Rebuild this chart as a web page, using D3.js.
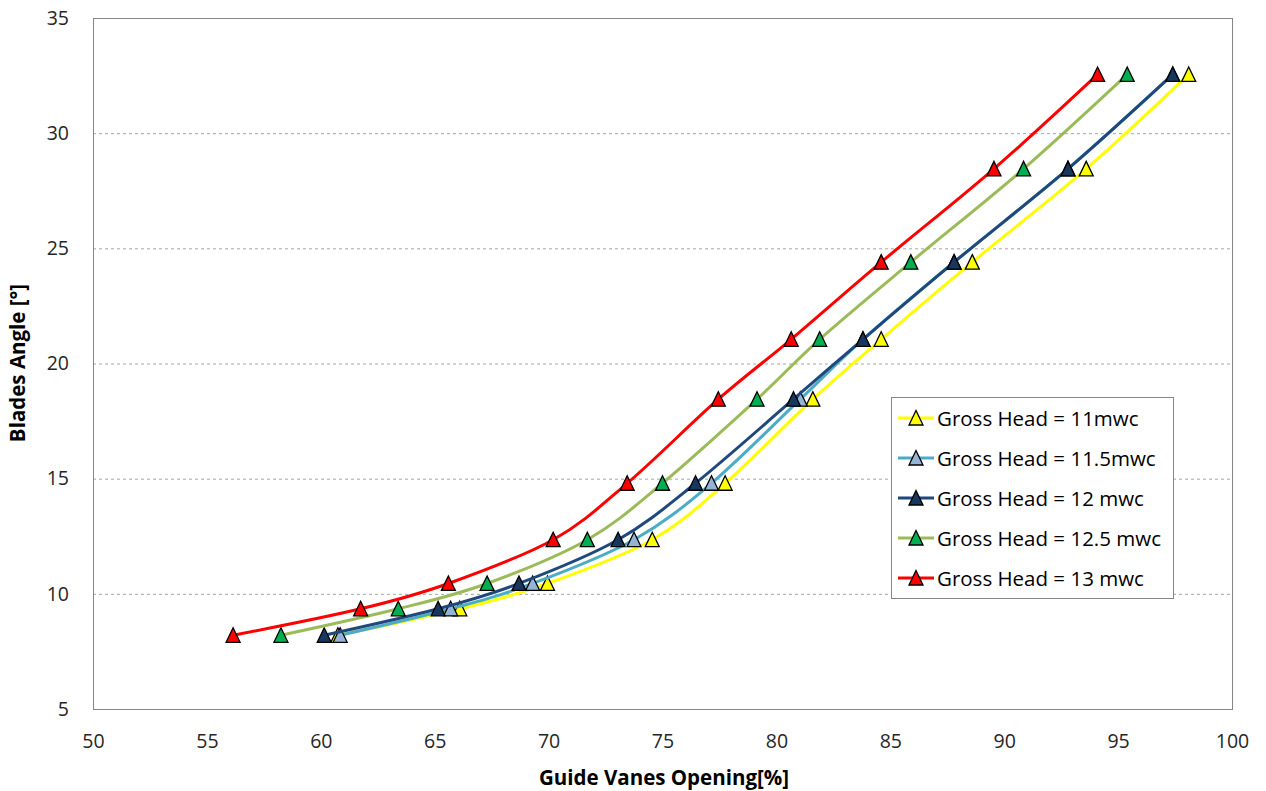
<!DOCTYPE html>
<html>
<head>
<meta charset="utf-8">
<script src="https://cdn.jsdelivr.net/npm/d3@7"></script>
<style>
  body { margin: 0; background: #fff; }
  text { font-family: "Open Sans", "DejaVu Sans", sans-serif; }
</style>
</head>
<body>
<div class="chart"></div>
<script>
// blade angle levels shared by every series
const angles = [8.2, 9.35, 10.45, 12.35, 14.8, 18.45, 21.05, 24.4, 28.45, 32.55];

// guide vane opening [%] per gross head
const head11 = [60.75, 66.1, 69.95, 74.55, 77.75, 81.6, 84.6, 88.6, 93.6, 98.1];
const head115 = [60.85, 65.7, 69.3, 73.75, 77.15, 81.05, 83.8, 87.8, 92.8, 97.4];
const head12 = [60.15, 65.15, 68.7, 73.05, 76.45, 80.75, 83.8, 87.8, 92.8, 97.4];
const head125 = [58.25, 63.4, 67.3, 71.7, 75.0, 79.15, 81.9, 85.9, 90.85, 95.4];
const head13 = [56.15, 61.75, 65.6, 70.2, 73.45, 77.45, 80.65, 84.6, 89.55, 94.1];

const seriesNames = ["Gross Head = 11mwc", "Gross Head = 11.5mwc", "Gross Head = 12 mwc", "Gross Head = 12.5 mwc", "Gross Head = 13 mwc"];
const lineColors = ["#FFFF00", "#4BACC6", "#1F497D", "#9BBB59", "#FF0000"];
const markerColors = ["#FFFF00", "#95B3D7", "#17375E", "#00B050", "#FF0000"];

const xTicks = [50, 55, 60, 65, 70, 75, 80, 85, 90, 95, 100];
const yTicks = [5, 10, 15, 20, 25, 30, 35];

const allSeries = [head11, head115, head12, head125, head13];

const width = 1266;
const height = 791;
const svg = d3
  .select(".chart")
  .append("svg")
  .attr("width", width)
  .attr("height", height);

const x = d3.scaleLinear().domain([50, 100]).range([93, 1232]);
const y = d3.scaleLinear().domain([5, 35]).range([709, 18]);

// gridlines
svg
  .selectAll("line.grid")
  .data(yTicks.filter((d) => d > 5 && d < 35))
  .enter()
  .append("line")
  .attr("class", "grid")
  .attr("x1", x(50))
  .attr("x2", x(100))
  .attr("y1", (d) => y(d) + 0.5)
  .attr("y2", (d) => y(d) + 0.5)
  .attr("stroke", "#a6a6a6")
  .attr("stroke-dasharray", "3,3");

// frame
svg
  .append("rect")
  .attr("x", x(50) + 0.5)
  .attr("y", y(35) + 0.5)
  .attr("width", x(100) - x(50))
  .attr("height", y(5) - y(35))
  .attr("fill", "none")
  .attr("stroke", "#868686");

// axes
const xAxis = d3.axisBottom(x).tickValues(xTicks).tickSize(0).tickPadding(25);
const yAxis = d3.axisLeft(y).tickValues(yTicks).tickSize(0).tickPadding(24);

const gx = svg.append("g").attr("transform", `translate(0,${y(5)})`).call(xAxis);
const gy = svg.append("g").attr("transform", `translate(${x(50)},0)`).call(yAxis);
[gx, gy].forEach((g) => {
  g.select(".domain").remove();
  g.selectAll("text")
    .attr("font-size", 19.5)
    .attr("fill", "#262626")
    .attr("font-family", "'Open Sans', sans-serif");
});

// axis titles
svg
  .append("text")
  .attr("x", 664)
  .attr("y", 785)
  .attr("text-anchor", "middle")
  .attr("font-size", 20.5)
  .attr("font-weight", "bold")
  .attr("font-family", "'Liberation Sans Narrow', 'Roboto Condensed', sans-serif")
  .text("Guide Vanes Opening[%]");

svg
  .append("text")
  .attr("transform", "translate(25,363) rotate(-90)")
  .attr("text-anchor", "middle")
  .attr("font-size", 20.5)
  .attr("font-weight", "bold")
  .attr("font-family", "'Liberation Sans Narrow', 'Roboto Condensed', sans-serif")
  .text("Blades Angle [°]");

const line = d3
  .line()
  .x((d) => x(d[0]))
  .y((d) => y(d[1]))
  .curve(d3.curveCatmullRom.alpha(0));

// triangle marker, centred on its box
const tri = "M0,-7.5L7,7L-7,7Z";

allSeries.forEach((vals, i) => {
  const pts = vals.map((v, j) => [v, angles[j]]);
  svg
    .append("path")
    .datum(pts)
    .attr("d", line)
    .attr("fill", "none")
    .attr("stroke", lineColors[i])
    .attr("stroke-width", 3);
  svg
    .selectAll("path.m" + i)
    .data(pts)
    .enter()
    .append("path")
    .attr("class", "m" + i)
    .attr("d", tri)
    .attr("transform", (d) => `translate(${x(d[0])},${y(d[1])})`)
    .attr("fill", markerColors[i])
    .attr("stroke", "#000")
    .attr("stroke-width", 1.3)
    .attr("stroke-linejoin", "miter");
});

// legend
const lg = svg.append("g").attr("transform", "translate(891,397)");
lg.append("rect")
  .attr("x", 0.5)
  .attr("y", 0.5)
  .attr("width", 282)
  .attr("height", 201)
  .attr("fill", "#fff")
  .attr("stroke", "#868686");

seriesNames.forEach((name, i) => {
  const ly = 21 + i * 40;
  lg.append("line")
    .attr("x1", 7)
    .attr("x2", 43)
    .attr("y1", ly)
    .attr("y2", ly)
    .attr("stroke", lineColors[i])
    .attr("stroke-width", 3);
  lg.append("path")
    .attr("d", tri)
    .attr("transform", `translate(25,${ly})`)
    .attr("fill", markerColors[i])
    .attr("stroke", "#000")
    .attr("stroke-width", 1.3);
  lg.append("text")
    .attr("x", 46)
    .attr("y", ly + 8)
    .attr("font-size", 20.5)
    .attr("fill", "#000")
    .text(name);
});
</script>
</body>
</html>
